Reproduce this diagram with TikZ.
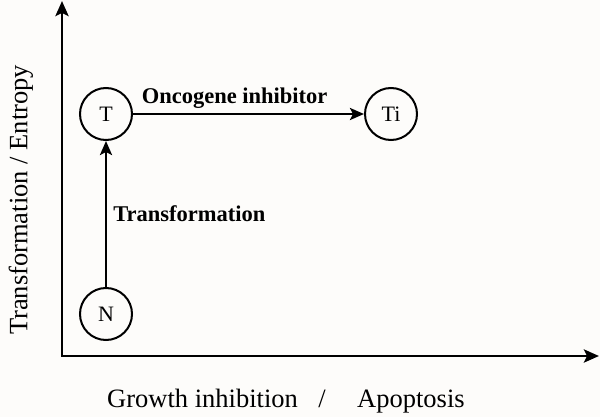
\documentclass[tikz,border=0pt]{standalone}
\usepackage{fontspec}
\setmainfont{Liberation Serif}
\usetikzlibrary{arrows.meta}
\definecolor{paper}{RGB}{253,252,250}
\tikzset{
	state/.style={draw, circle, line width=2pt, minimum size=52pt, inner sep=0pt, font=\fontsize{22}{24}\selectfont},
	axis/.style={line width=2.9pt, {Stealth[length=15pt,width=13pt,inset=3pt]}-{Stealth[length=15pt,width=13pt,inset=3pt]}},
	trans/.style={line width=2.6pt, -{Stealth[length=14pt,width=12pt,inset=3pt]}},
	axislabel/.style={inner sep=0pt, font=\fontsize{26.5}{28}\selectfont},
	translabel/.style={font=\fontsize{22.5}{24}\selectfont\bfseries}
}
\begin{document}
\begin{tikzpicture}[x=1pt,y=-1pt]
	\fill [paper] (0,0) rectangle (600,417);
	\useasboundingbox (0,0) rectangle (600,417);

	% axes
	\coordinate (O) at (62,356);
	\coordinate (ytop) at (62,1);
	\coordinate (xend) at (599,356);
	\draw [axis] (ytop) -- (O) -- (xend);

	\node [axislabel, rotate=90] (ylab) at (21,200) {Transformation / Entropy};
	\node [axislabel, anchor=base west] (xlab) at (107,407) {Growth inhibition};
	\node [axislabel, anchor=base] (slash) at (322,407) {/};
	\node [axislabel, anchor=base west] (ylab2) at (357,407) {Apoptosis};

	% states
	\node [state] (N) at (106,314) {N};
	\node [state] (T) at (106,114) {T};
	\node [state] (Ti) at (391,114) {Ti};

	\draw [trans] (N) -- node [translabel, right, inner sep=6pt] (transf) {Transformation} (T);
	\draw [trans] (T) -- node [translabel, above, pos=.44, inner sep=4pt] (onco) {Oncogene inhibitor} (Ti);
\end{tikzpicture}
\end{document}
